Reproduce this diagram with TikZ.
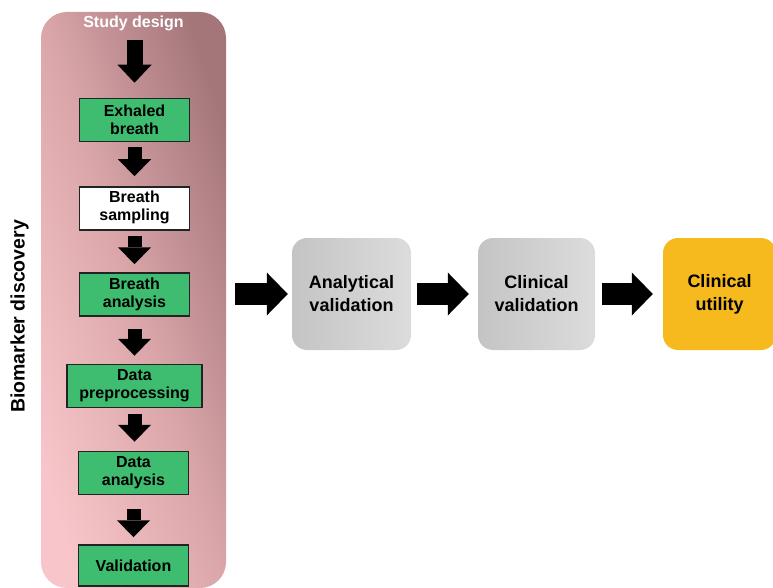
\documentclass[tikz,border=0pt]{standalone}
\usepackage{fontspec}
\setmainfont{Liberation Sans}
\usetikzlibrary{arrows.meta}
\definecolor{pinkdark}{RGB}{164,118,122}
\definecolor{pinkmid}{RGB}{218,166,170}
\definecolor{pinklight}{RGB}{248,198,202}
\definecolor{stepgreen}{RGB}{62,189,112}
\definecolor{greyL}{RGB}{196,196,196}
\definecolor{greyR}{RGB}{220,220,220}
\definecolor{utilorange}{RGB}{246,186,30}
\definecolor{boxline}{RGB}{35,35,35}
\begin{document}
\begin{tikzpicture}[x=1pt,y=-1pt,
  discbox/.style={top color=pinkdark, bottom color=pinklight, middle color=pinkmid, shading angle=-72, rounded corners=26pt, inner sep=0pt, minimum width=185pt, minimum height=576pt},
  stepbox/.style={draw=boxline, line width=1.5pt, fill=stepgreen, inner sep=0pt, align=center, font=\bfseries\fontsize{16}{18}\selectfont, minimum height=43pt},
  whitebox/.style={stepbox, fill=white},
  bigbox/.style={rounded corners=15pt, inner sep=0pt, minimum height=112pt, align=center, font=\bfseries\fontsize{18}{23}\selectfont},
  greybox/.style={bigbox, left color=greyL, right color=greyR},
  downarrow/.style={line width=14pt, -{Triangle[width=33pt,length=17pt,line width=0pt]}},
  firstarrow/.style={line width=16pt, -{Triangle[width=34pt,length=18pt,line width=0pt]}},
  rightarrow/.style={line width=22pt, -{Triangle[width=43pt,length=21pt,line width=0pt]}},
]
\useasboundingbox (0,0) rectangle (773,588);

% discovery panel
\node[discbox] (disc) at (133.5,300) {};
\node[font=\bfseries\fontsize{16}{18}\selectfont, text=white, anchor=base, inner sep=0pt] (sd) at (133.5,28) {Study design};

\node[stepbox, minimum width=110pt] (ex) at (134.5,120) {Exhaled\\breath};
\node[whitebox, minimum width=110pt] (sa) at (134.5,208.5) {Breath\\sampling\strut};
\node[stepbox, minimum width=110pt] (an) at (134.5,294.5) {Breath\\analysis};
\node[stepbox, minimum width=135pt] (pp) at (134.5,386) {Data\\preprocessing};
\node[stepbox, minimum width=110pt] (da) at (133.5,473) {Data\\analysis};
\node[stepbox, minimum width=110pt, minimum height=41pt] (va) at (133.5,565.5) {Validation};

\node[rotate=90, anchor=base, font=\bfseries\fontsize{19.5}{20}\selectfont, inner sep=0pt] (bd) at (24.5,316.5) {Biomarker discovery};

% vertical arrows
\draw[firstarrow, shorten <=8.6pt, shorten >=15pt] (sd.south -| ex.north) -- (ex.north);
\draw[downarrow, shorten <=5pt, shorten >=10pt] (ex.south) -- (sa.north);
\draw[downarrow, shorten <=5pt, shorten >=8pt] (sa.south) -- (an.north);
\draw[downarrow, shorten <=12pt, shorten >=8pt] (an.south) -- (pp.north);
\draw[downarrow, shorten <=6pt, shorten >=9pt] (pp.south) -- (pp.south |- da.north);
\draw[downarrow, shorten <=14pt, shorten >=7pt] (da.south) -- (va.north);

% validation chain
\node[greybox, minimum width=119pt] (av) at (351.5,294) {Analytical\\validation};
\node[greybox, minimum width=117pt] (cv) at (536.5,294) {Clinical\\validation};
\node[bigbox, fill=utilorange, minimum width=113pt] (cu) at (719.5,294) {Clinical\\utility};

\draw[rightarrow, shorten <=9pt, shorten >=4pt] (disc.east |- av.west) -- (av.west);
\draw[rightarrow, shorten <=6pt, shorten >=9pt] (av.east) -- (cv.west);
\draw[rightarrow, shorten <=7pt, shorten >=10pt] (cv.east) -- (cu.west);
\end{tikzpicture}
\end{document}
